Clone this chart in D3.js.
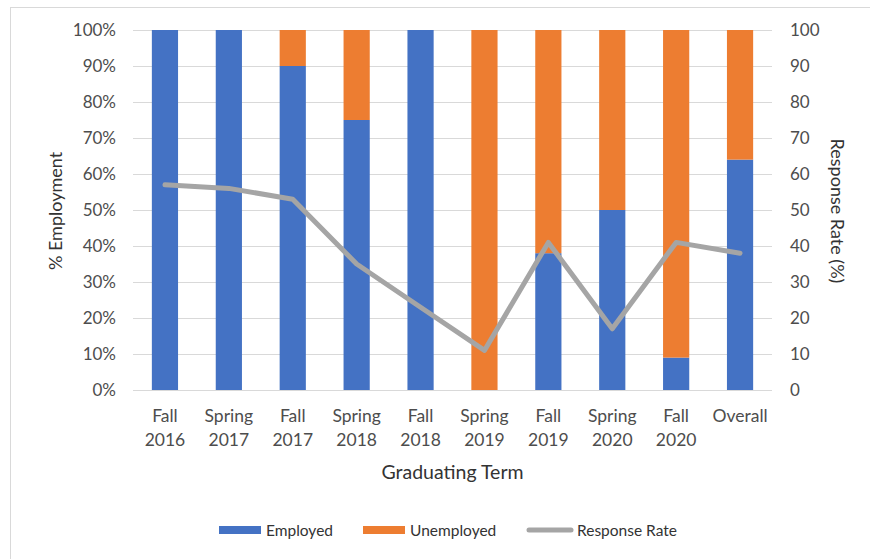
<!DOCTYPE html>
<html>
<head>
<meta charset="utf-8">
<script src="https://cdn.jsdelivr.net/npm/d3@7"></script>
<style>
  body { margin: 0; background: #fff; }
  svg { font-family: Lato, "Open Sans", sans-serif; }
</style>
</head>
<body>
<div id="chart"></div>
<script>
const terms = [
  ['Fall', '2016'], ['Spring', '2017'], ['Fall', '2017'], ['Spring', '2018'],
  ['Fall', '2018'], ['Spring', '2019'], ['Fall', '2019'], ['Spring', '2020'],
  ['Fall', '2020'], ['Overall']
];
const employed = [100, 100, 90, 75, 100, 0, 38, 50, 9, 64];
const unemployed = employed.map(d => 100 - d);
const responseRate = [57, 56, 53, 35, 23, 11, 41, 17, 41, 38];
const leftTicks = [0, 10, 20, 30, 40, 50, 60, 70, 80, 90, 100];

const COLORS = { employed: '#4472c4', unemployed: '#ed7d31', rate: '#a5a5a5' };
const TEXT = '#4d4d4d';
const TITLE = '#333333';

const width = 870;
const height = 559;
const margin = { top: 30, right: 98, bottom: 169, left: 133 };
const innerW = width - margin.left - margin.right;
const innerH = height - margin.top - margin.bottom;

const svg = d3.select('#chart')
  .append('svg')
  .attr('width', width)
  .attr('height', height);

// chart frame
svg.append('rect')
  .attr('x', 10.5).attr('y', 7.5)
  .attr('width', 870).attr('height', 560)
  .attr('fill', '#fff')
  .attr('stroke', '#d9d9d9');

const g = svg.append('g')
  .attr('transform', `translate(${margin.left},${margin.top})`);

const x = d3.scaleBand()
  .domain(d3.range(terms.length))
  .range([0, innerW])
  .paddingInner(0.59)
  .paddingOuter(0.295);

const y = d3.scaleLinear().domain([0, 100]).range([innerH, 0]);
const y2 = d3.scaleLinear().domain([0, 100]).range([innerH, 0]);

// gridlines
g.append('g')
  .selectAll('line')
  .data(leftTicks)
  .join('line')
  .attr('x1', 0).attr('x2', innerW)
  .attr('y1', d => Math.round(y(d)) + 0.5)
  .attr('y2', d => Math.round(y(d)) + 0.5)
  .attr('stroke', '#d9d9d9')
  .attr('stroke-width', 1.2);

// stacked bars
const stack = d3.stack().keys(['employed', 'unemployed']);
const rows = terms.map((t, i) => ({ i, employed: employed[i], unemployed: unemployed[i] }));
const series = stack(rows);

g.append('g')
  .selectAll('g')
  .data(series)
  .join('g')
  .attr('fill', s => COLORS[s.key])
  .selectAll('rect')
  .data(s => s)
  .join('rect')
  .attr('x', d => x(d.data.i))
  .attr('y', d => y(d[1]))
  .attr('width', x.bandwidth())
  .attr('height', d => y(d[0]) - y(d[1]));

// response rate line
const line = d3.line()
  .x((d, i) => x(i) + x.bandwidth() / 2)
  .y(d => y2(d));

g.append('path')
  .datum(responseRate)
  .attr('d', line)
  .attr('fill', 'none')
  .attr('stroke', COLORS.rate)
  .attr('stroke-width', 5)
  .attr('stroke-linejoin', 'round')
  .attr('stroke-linecap', 'round');

// left axis
const leftAxis = d3.axisLeft(y)
  .tickValues(leftTicks)
  .tickFormat(d => d + '%')
  .tickSize(0)
  .tickPadding(17);
g.append('g')
  .call(leftAxis)
  .call(a => a.select('.domain').remove())
  .selectAll('text')
  .attr('fill', TEXT)
  .style('font-size', '17px')
  .style('font-family', 'Lato, sans-serif');

// right axis
const rightAxis = d3.axisRight(y2)
  .tickValues(leftTicks)
  .tickSize(0)
  .tickPadding(18);
g.append('g')
  .attr('transform', `translate(${innerW},0)`)
  .call(rightAxis)
  .call(a => a.select('.domain').remove())
  .selectAll('text')
  .attr('fill', TEXT)
  .style('font-size', '17px')
  .style('font-family', 'Lato, sans-serif');

// x axis labels
const xLabels = g.append('g')
  .attr('transform', `translate(0,${innerH})`)
  .selectAll('text')
  .data(terms)
  .join('text')
  .attr('x', (d, i) => x(i) + x.bandwidth() / 2)
  .attr('y', 32)
  .attr('text-anchor', 'middle')
  .attr('fill', TEXT)
  .style('font-size', '17.5px');
xLabels.selectAll('tspan')
  .data(d => d)
  .join('tspan')
  .attr('x', function () { return d3.select(this.parentNode).attr('x'); })
  .attr('dy', (d, i) => i === 0 ? 0 : 24)
  .text(d => d);

// axis titles
svg.append('text')
  .attr('transform', 'translate(62,211) rotate(-90)')
  .attr('text-anchor', 'middle')
  .attr('fill', TITLE)
  .style('font-size', '18px')
  .text('% Employment');

svg.append('text')
  .attr('transform', 'translate(831,211) rotate(90)')
  .attr('text-anchor', 'middle')
  .attr('fill', TITLE)
  .style('font-size', '18px')
  .text('Response Rate (%)');

svg.append('text')
  .attr('x', margin.left + innerW / 2)
  .attr('y', 479)
  .attr('text-anchor', 'middle')
  .attr('fill', TITLE)
  .style('font-size', '19.5px')
  .text('Graduating Term');

// legend
const legendItems = [
  { label: 'Employed', color: COLORS.employed, type: 'rect', x: 219 },
  { label: 'Unemployed', color: COLORS.unemployed, type: 'rect', x: 363 },
  { label: 'Response Rate', color: COLORS.rate, type: 'line', x: 527 }
];
const legend = svg.append('g')
  .selectAll('g')
  .data(legendItems)
  .join('g')
  .attr('transform', d => `translate(${d.x},530)`);

legend.filter(d => d.type === 'rect')
  .append('rect')
  .attr('x', 0).attr('y', -4)
  .attr('width', 42).attr('height', 8)
  .attr('fill', d => d.color);

legend.filter(d => d.type === 'line')
  .append('line')
  .attr('x1', 2).attr('x2', 44)
  .attr('y1', 0).attr('y2', 0)
  .attr('stroke', d => d.color)
  .attr('stroke-width', 5)
  .attr('stroke-linecap', 'round');

legend.append('text')
  .attr('x', d => d.type === 'line' ? 50 : 47)
  .attr('y', 5.5)
  .attr('fill', TITLE)
  .style('font-size', '15.5px')
  .text(d => d.label);
</script>
</body>
</html>
